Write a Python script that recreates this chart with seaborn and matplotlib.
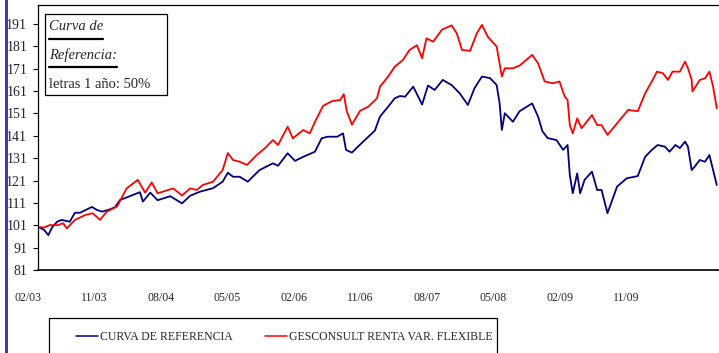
import matplotlib
matplotlib.use("Agg")
import matplotlib.pyplot as plt
import matplotlib.transforms as mtransforms
from matplotlib.patches import Rectangle
from matplotlib.lines import Line2D
import pandas as pd
import seaborn as sns

# Months elapsed since February 2003 and index levels (base 100)
ref_months = [0.0, 0.8, 1.4, 1.9, 2.6, 3.2, 4.3, 5.0, 5.7, 7.3,
              8.0, 8.7, 9.7, 10.4, 11.1, 12.5, 13.8, 14.2, 15.2, 16.2,
              17.9, 19.5, 20.6, 21.9, 23.7, 25.0, 25.7, 26.4, 27.3, 28.4,
              30.0, 31.8, 32.5, 33.8, 34.8, 35.9, 37.5, 38.4, 39.2, 40.5,
              41.3, 41.7, 42.5, 43.3, 44.5, 45.6, 46.3, 47.4, 48.3, 49.0,
              49.7, 50.8, 52.0, 52.8, 53.7, 54.8, 56.0, 57.1, 58.2, 59.1,
              60.1, 61.2, 62.1, 62.5, 62.8, 63.2, 64.3, 65.2, 66.9, 67.7,
              68.3, 69.0, 70.2, 71.1, 71.7, 72.0, 72.4, 73.0, 73.4, 74.0,
              75.0, 75.7, 76.3, 77.1, 78.4, 79.7, 81.2, 82.2, 83.1, 83.9,
              84.9, 85.5, 86.3, 86.9, 87.6, 88.0, 88.5, 88.9, 89.6, 90.3,
              90.9, 91.4, 91.9]
ref_values = [100.3, 99.0, 96.6, 100.0, 102.6, 103.4, 102.6, 106.6, 106.6, 109.2,
              107.8, 107.1, 108.1, 109.0, 112.3, 114.1, 115.8, 111.6, 115.6, 112.2,
              114.0, 110.8, 114.2, 116.0, 117.6, 120.5, 124.5, 122.7, 122.7, 120.5,
              125.7, 128.7, 127.6, 133.2, 129.8, 131.6, 133.9, 139.9, 140.6, 140.6,
              142.1, 134.7, 133.5, 136.1, 139.9, 143.3, 149.6, 154.0, 157.8, 158.8,
              158.5, 163.0, 155.0, 163.5, 161.5, 166.0, 163.7, 160.0, 154.8, 162.3,
              167.5, 166.8, 163.7, 155.5, 143.6, 151.1, 147.3, 152.0, 155.5, 149.6,
              143.0, 140.0, 139.1, 134.7, 136.9, 123.5, 115.3, 124.2, 115.3, 121.3,
              125.0, 116.8, 116.8, 106.4, 118.3, 122.0, 123.0, 131.6, 134.7, 136.9,
              136.1, 133.9, 136.9, 135.5, 138.4, 136.1, 125.7, 127.2, 130.2, 129.4,
              132.4, 125.7, 119.0]

fund_months = [0.0, 0.8, 1.6, 2.6, 3.4, 3.9, 5.0, 6.4, 7.4, 8.4,
               9.3, 10.7, 12.0, 13.5, 14.5, 15.4, 16.2, 18.3, 19.5, 20.6,
               21.5, 22.3, 23.7, 25.0, 25.7, 26.4, 27.3, 28.3, 29.6, 30.7,
               31.8, 32.5, 33.8, 34.5, 35.9, 36.8, 37.5, 38.6, 39.8, 40.9,
               41.4, 41.8, 42.5, 43.6, 44.7, 45.9, 46.3, 47.4, 48.3, 49.4,
               50.3, 51.3, 52.0, 52.6, 53.5, 54.7, 56.0, 56.7, 57.4, 58.5,
               59.4, 60.1, 60.9, 62.1, 62.8, 63.2, 64.3, 65.2, 66.9, 67.7,
               68.6, 69.7, 70.6, 71.3, 71.7, 72.0, 72.4, 73.0, 73.6, 75.0,
               75.7, 76.3, 77.1, 78.4, 79.9, 81.2, 82.2, 83.1, 83.8, 84.6,
               85.3, 85.9, 86.9, 87.6, 88.0, 88.5, 88.6, 89.6, 90.3, 90.9,
               91.4, 91.9]
fund_values = [100.3, 100.0, 101.1, 101.0, 101.9, 99.6, 103.4, 105.6, 106.4, 103.4,
               107.1, 109.4, 117.5, 121.3, 115.6, 120.1, 115.3, 117.5, 114.3, 117.5,
               116.8, 119.0, 120.5, 125.7, 133.3, 130.2, 129.4, 128.0, 132.4, 135.4,
               139.1, 136.9, 145.1, 139.9, 143.6, 142.1, 147.3, 154.4, 156.5, 157.0,
               159.6, 152.0, 146.0, 152.2, 154.0, 157.8, 163.0, 167.5, 171.9, 174.9,
               179.4, 181.5, 175.7, 184.6, 183.1, 188.5, 190.4, 186.8, 179.4, 179.0,
               186.8, 190.6, 185.3, 180.9, 167.5, 171.2, 171.2, 172.4, 177.2, 173.4,
               165.3, 164.5, 165.3, 158.6, 157.0, 145.8, 142.1, 148.8, 144.4, 150.3,
               145.8, 145.8, 141.4, 146.6, 152.6, 152.0, 160.0, 165.3, 169.7, 169.0,
               166.0, 169.7, 169.7, 174.2, 171.2, 166.0, 160.8, 166.0, 166.7, 169.7,
               163.0, 153.3]

series_names = ["CURVA DE REFERENCIA", "GESCONSULT RENTA VAR. FLEXIBLE"]
series_colors = ["#000080", "#ff0000"]

x_tick_months = [0, 9, 18, 27, 36, 45, 54, 63, 72, 81]
x_tick_labels = ["02/03", "11/03", "08/04", "05/05", "02/06",
                 "11/06", "08/07", "05/08", "02/09", "11/09"]
y_ticks = [81, 91, 101, 111, 121, 131, 141, 151, 161, 171, 181, 191]

note_lines = ["Curva de", "Referencia:", "letras 1 año: 50%"]

df = pd.concat([
    pd.DataFrame({"mes": ref_months, "valor": ref_values, "serie": series_names[0]}),
    pd.DataFrame({"mes": fund_months, "valor": fund_values, "serie": series_names[1]}),
], ignore_index=True)

sns.set_style("white")
plt.rcParams["font.family"] = ["Liberation Serif", "DejaVu Serif"]

W, H = 719, 353
fig = plt.figure(figsize=(W / 100, H / 100), dpi=100)
fig.patch.set_facecolor("white")

def fx(px):
    return px / W

def fy(py):
    return 1 - py / H

ax = fig.add_axes([fx(38), fy(270), fx(719 - 38), (270 - 5) / H])
sns.lineplot(data=df, x="mes", y="valor", hue="serie",
             palette=dict(zip(series_names, series_colors)),
             estimator=None, sort=False, legend=False, linewidth=1.3, ax=ax)

ax.set_xlim(0, 92.2)
ax.set_ylim(81, 199.5)
ax.set_xlabel("")
ax.set_ylabel("")
ax.set_yticks(y_ticks)
ax.set_yticklabels([str(v) for v in y_ticks])
ax.set_xticks(x_tick_months)
ax.set_xticklabels(x_tick_labels)
ax.tick_params(axis="y", direction="out", length=3.8, width=0.8, pad=4,
               labelsize=10, color="black", left=True)
ax.tick_params(axis="x", length=0, pad=16, labelsize=8.5)
shift = mtransforms.ScaledTranslation(-0.10, 0, fig.dpi_scale_trans)
for lab in ax.get_xticklabels():
    lab.set_transform(lab.get_transform() + shift)

for side in ["left", "top"]:
    ax.spines[side].set_color("black")
    ax.spines[side].set_linewidth(0.9)
ax.spines["bottom"].set_color("#222222")
ax.spines["bottom"].set_linewidth(1.4)
ax.spines["right"].set_visible(False)

# Vertical accent bar at the left edge
fig.add_artist(Rectangle((fx(5), 0), fx(3), 1, transform=fig.transFigure,
                         facecolor="#3c3cb4", edgecolor="none", zorder=10))

# Note box in the upper-left corner
fig.add_artist(Rectangle((fx(45), fy(95)), fx(122), (95 - 14) / H,
                         transform=fig.transFigure, facecolor="white",
                         edgecolor="black", linewidth=0.9, zorder=5))
t1 = fig.text(fx(49), fy(27), note_lines[0], style="italic", fontsize=10.5,
              va="center", ha="left", zorder=6)
t2 = fig.text(fx(49), fy(55), note_lines[1], style="italic", fontsize=10.5,
              va="center", ha="left", zorder=6)
fig.text(fx(49), fy(84), note_lines[2], fontsize=10.5, va="center", ha="left", zorder=6)

fig.canvas.draw()
renderer = fig.canvas.get_renderer()
for txt, uy in [(t1, 39), (t2, 67)]:
    bb = txt.get_window_extent(renderer)
    fig.add_artist(Line2D([bb.x0 / W, bb.x1 / W], [fy(uy), fy(uy)],
                          transform=fig.transFigure, color="black",
                          linewidth=1.6, zorder=6))

# Legend below the plot
fig.add_artist(Rectangle((fx(49), -0.05), fx(497 - 49), fy(318) + 0.05,
                         transform=fig.transFigure, facecolor="white",
                         edgecolor="black", linewidth=0.9))
handles = [Line2D([], [], color=c, linewidth=1.1) for c in series_colors]
fig.legend(handles, series_names, loc="center left",
           bbox_to_anchor=(fx(70), fy(337)), bbox_transform=fig.transFigure,
           ncol=2, frameon=False, borderpad=0, fontsize=8.5,
           handlelength=1.86, handletextpad=0.15, columnspacing=2.8)

fig.savefig("out.png", dpi=100, facecolor="white")
